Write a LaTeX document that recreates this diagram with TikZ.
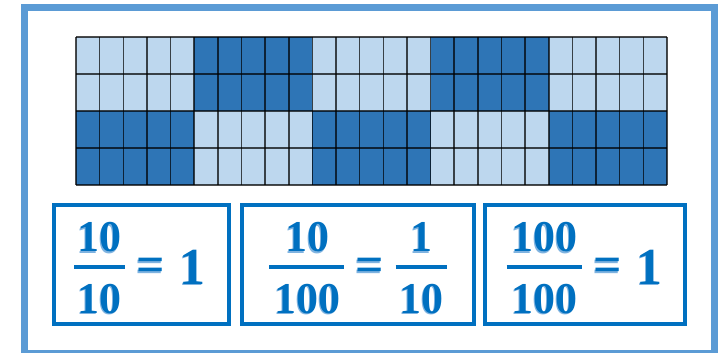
\documentclass[tikz,border=0pt]{standalone}
\usepackage{fontspec}
\setmainfont{Liberation Serif}
\definecolor{frameblue}{HTML}{5B9BD5}
\definecolor{boxblue}{HTML}{0070C0}
\definecolor{shadowblue}{HTML}{7FB3E0}
\definecolor{lightcell}{HTML}{BDD7EE}
\definecolor{darkcell}{HTML}{2E75B6}
\newcommand{\shadtext}[5]{%
  \node[#4, text=shadowblue] (#1s) at (#2-0.8,#3+1.5) {#5};
  \node[#4] (#1) at (#2,#3) {#5};}
\begin{document}
\begin{tikzpicture}[x=1pt,y=-1pt,
  numtxt/.style={font=\fontsize{44}{48}\selectfont\bfseries, text=boxblue, inner sep=0pt, anchor=base},
  bigtxt/.style={font=\fontsize{52}{56}\selectfont\bfseries, text=boxblue, inner sep=0pt, anchor=base},
  eqtxt/.style={font=\fontsize{50}{54}\selectfont\bfseries, text=boxblue, inner sep=0pt, anchor=base},
  fracbar/.style={draw=boxblue, line width=4pt},
  eqbox/.style={draw=boxblue, line width=4pt},
  gridline/.style={draw=black, draw opacity=0.7, line width=1.5pt}]
\useasboundingbox (0,0) rectangle (718,353);
% outer frame
\draw[frameblue, line width=7pt] (24.5,7.5) rectangle (714.5,353.5);
% grid cells
\foreach \b in {0,...,4}{
  \pgfmathsetmacro{\isodd}{mod(\b,2)}
  \ifdim\isodd pt=0pt
    \def\topc{lightcell}\def\botc{darkcell}
  \else
    \def\topc{darkcell}\def\botc{lightcell}
  \fi
  \fill[\topc] (76+\b*118.2,37) rectangle (76+\b*118.2+118.2,111);
  \fill[\botc] (76+\b*118.2,111) rectangle (76+\b*118.2+118.2,185);
}
\foreach \i in {0,...,25}{
  \draw[gridline] (76+\i*23.64,37) -- (76+\i*23.64,185);
}
\foreach \j in {0,...,4}{
  \draw[gridline] (76,37+\j*37) -- (667,37+\j*37);
}
% boxes
\draw[eqbox] (54.3,205) rectangle (228.7,324.3);
\draw[eqbox] (242.3,205) rectangle (474.3,324.3);
\draw[eqbox] (485.3,205) rectangle (685,324.3);
% box 1
\shadtext{an}{99.6}{251.7}{numtxt}{10}
\draw[fracbar] (74,266.7) -- (125,266.7);
\shadtext{ad}{99.6}{313.3}{numtxt}{10}
\shadtext{aeq}{150.5}{281.8}{eqtxt}{=}
\shadtext{aone}{192.2}{284.3}{bigtxt}{1}
% box 2
\shadtext{bn}{307}{251.7}{numtxt}{10}
\draw[fracbar] (269,266.7) -- (344,266.7);
\shadtext{bd}{307}{313.3}{numtxt}{100}
\shadtext{beq}{370}{281.8}{eqtxt}{=}
\shadtext{cn}{421.2}{251.7}{numtxt}{1}
\draw[fracbar] (395.7,266.7) -- (446.7,266.7);
\shadtext{cd}{421.2}{313.3}{numtxt}{10}
% box 3
\shadtext{dn}{544.2}{251.7}{numtxt}{100}
\draw[fracbar] (506.7,266.7) -- (581.7,266.7);
\shadtext{dd}{544.2}{313.3}{numtxt}{100}
\shadtext{deq}{607.8}{281.8}{eqtxt}{=}
\shadtext{done}{649.2}{284.3}{bigtxt}{1}
\end{tikzpicture}
\end{document}
